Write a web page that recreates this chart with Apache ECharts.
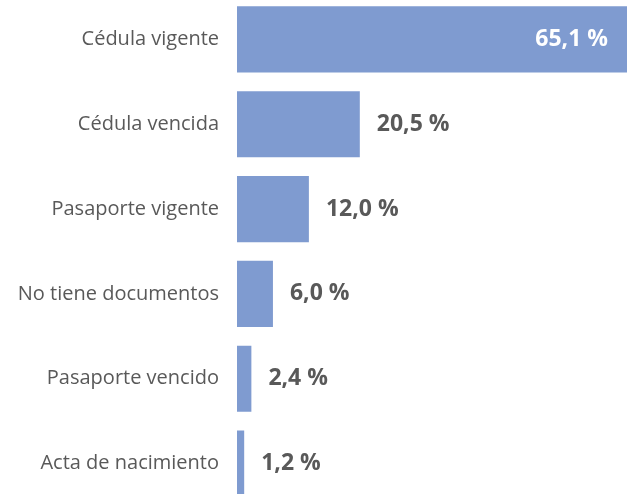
<!DOCTYPE html>
<html><head><meta charset="utf-8">
<script src="https://cdn.jsdelivr.net/npm/echarts@6/dist/echarts.min.js"></script>
<style>html,body{margin:0;padding:0;background:#fff}#c{width:627px;height:494px}</style>
</head><body><div id="c"></div>
<script>
const categories = ["Cédula vigente","Cédula vencida","Pasaporte vigente","No tiene documentos","Pasaporte vencido","Acta de nacimiento"];
const values = [65.1, 20.5, 12.0, 6.0, 2.4, 1.2];
const fmt = v => v.toFixed(1).replace('.', ',') + ' %';
const chart = echarts.init(document.getElementById('c'), null, {renderer:'canvas'});
chart.setOption({
  animation:false,
  grid:{left:237,right:0,top:-3,height:509,containLabel:false,outerBoundsMode:'none'},
  xAxis:{type:'value',min:0,max:65.1,show:false},
  yAxis:{type:'category',data:categories,inverse:true,
    axisLine:{show:false},axisTick:{show:false},
    axisLabel:{margin:18,color:'#595959',fontFamily:'Open Sans',fontSize:20}},
  series:[{type:'bar',data:values.map((v,i)=>({value:v,label:i===0?{position:'insideRight',distance:19,color:'#fff'}:{}})),
    barCategoryGap:'22%',
    itemStyle:{color:'#7f9bd0'},
    label:{show:true,position:'right',distance:17,color:'#595959',fontFamily:'Open Sans',fontWeight:'bold',fontSize:23,
      formatter:p=>fmt(p.value)}}]
});
</script></body></html>
